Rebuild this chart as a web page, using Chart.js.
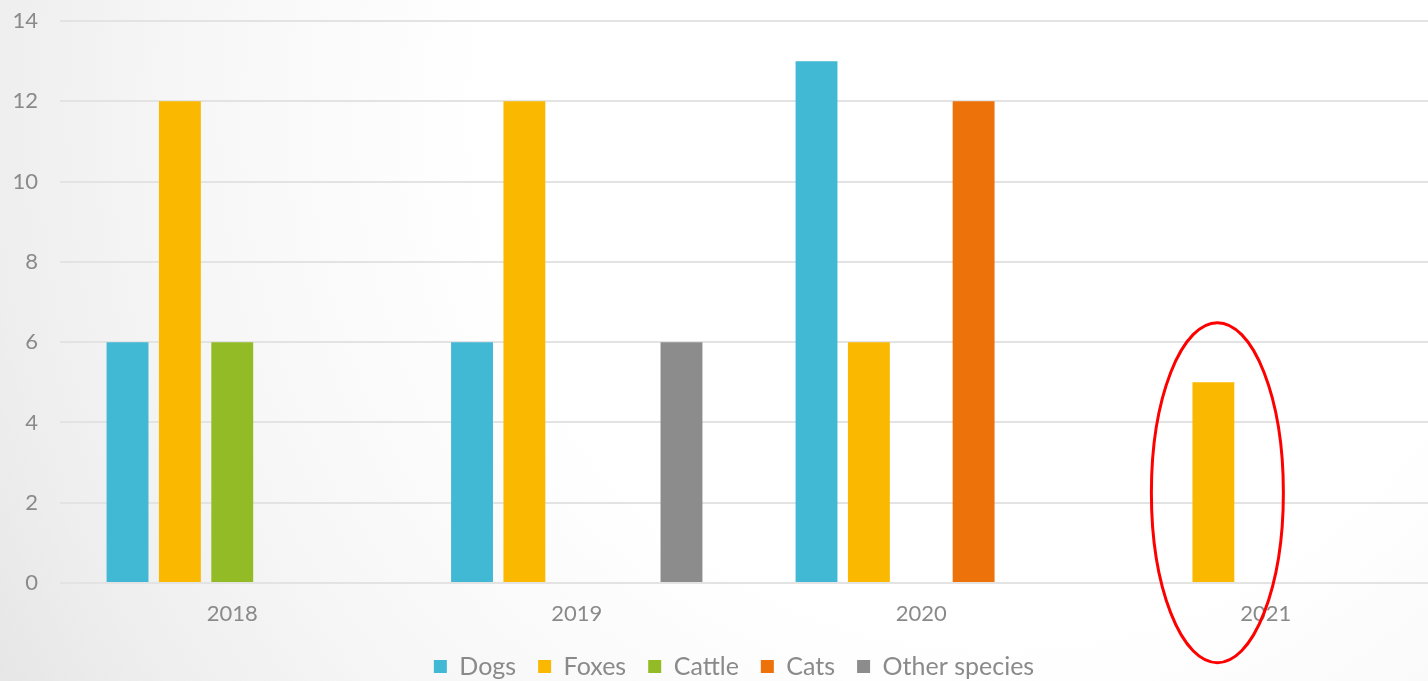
<!DOCTYPE html>
<html>
<head>
<meta charset="utf-8">
<script src="https://cdn.jsdelivr.net/npm/chart.js@4"></script>
<style>
  html, body { margin: 0; padding: 0; overflow: hidden; background: #fff; }
  #wrap { width: 1468px; height: 689px; }
</style>
</head>
<body>
<div id="wrap"><canvas id="chart" width="1468" height="689"></canvas></div>
<script>
const years = ['2018', '2019', '2020', '2021'];
const dogs = [6, 6, 13, 0];
const foxes = [12, 12, 6, 5];
const cattle = [6, 0, 0, 0];
const cats = [0, 0, 12, 0];
const otherSpecies = [0, 6, 0, 0];
const yTicks = [0, 2, 4, 6, 8, 10, 12, 14];

const textGrey = '#8a8a8a';
const fontFamily = 'Lato, "Noto Sans", sans-serif';

// soft grey-to-white slide background
const backdrop = {
  id: 'backdrop',
  beforeDraw(chart) {
    const { ctx, width, height } = chart;
    const g = ctx.createRadialGradient(1000, 120, 0, 1000, 120, 1150);
    g.addColorStop(0, '#ffffff');
    g.addColorStop(0.45, '#ffffff');
    g.addColorStop(0.7, '#f7f7f7');
    g.addColorStop(0.88, '#eeeeee');
    g.addColorStop(1, '#e6e6e6');
    ctx.save();
    ctx.fillStyle = g;
    ctx.fillRect(0, 0, width, height);
    ctx.restore();
  }
};

// nudge the legend row a little to the right
const legendShift = {
  id: 'legendShift',
  afterLayout(chart) {
    if (!chart.legend) return;
    chart.legend.left += 15;
    chart.legend.right += 15;
  }
};

// red ring drawn around the 2021 foxes bar
const highlight = {
  id: 'highlight',
  afterDraw(chart) {
    const meta = chart.getDatasetMeta(1);
    const bar = meta.data[3];
    if (!bar) return;
    const y = chart.scales.y;
    const { ctx } = chart;
    ctx.save();
    ctx.strokeStyle = '#ff0000';
    ctx.lineWidth = 3;
    ctx.beginPath();
    ctx.ellipse(bar.x + 4, y.getPixelForValue(2.25), 66, 170, 0, 0, Math.PI * 2);
    ctx.stroke();
    ctx.restore();
  }
};

new Chart(document.getElementById('chart'), {
  type: 'bar',
  data: {
    labels: years,
    datasets: [
      { label: 'Dogs', data: dogs, backgroundColor: '#41b9d4' },
      { label: 'Foxes', data: foxes, backgroundColor: '#fbb800' },
      { label: 'Cattle', data: cattle, backgroundColor: '#92bb25' },
      { label: 'Cats', data: cats, backgroundColor: '#ee720a' },
      { label: 'Other species', data: otherSpecies, backgroundColor: '#8c8c8c' }
    ]
  },
  options: {
    responsive: false,
    animation: false,
    barPercentage: 0.8,
    categoryPercentage: 0.76,
    layout: { padding: { top: 21, right: 30, left: 0, bottom: 0 } },
    scales: {
      x: {
        afterFit(scale) { scale.height = 49; },
        grid: { display: false, drawTicks: false },
        border: { display: false },
        ticks: { color: textGrey, padding: 18, font: { family: fontFamily, size: 22 } }
      },
      y: {
        min: 0,
        max: 14,
        afterBuildTicks(scale) {
          scale.ticks = yTicks.map(v => ({ value: v }));
        },
        afterFit(scale) {
          scale.width = 60;
          scale.paddingTop = 0;
          scale.paddingBottom = 0;
        },
        grid: { color: '#e3e3e3', lineWidth: 2, drawTicks: false },
        border: { display: false },
        ticks: { color: textGrey, padding: 22, font: { family: fontFamily, size: 22 } }
      }
    },
    plugins: {
      tooltip: { enabled: false },
      legend: {
        position: 'bottom',
        labels: {
          boxWidth: 13,
          boxHeight: 13,
          padding: 22,
          color: textGrey,
          font: { family: fontFamily, size: 25 }
        }
      }
    }
  },
  plugins: [backdrop, legendShift, highlight]
});
</script>
</body>
</html>
